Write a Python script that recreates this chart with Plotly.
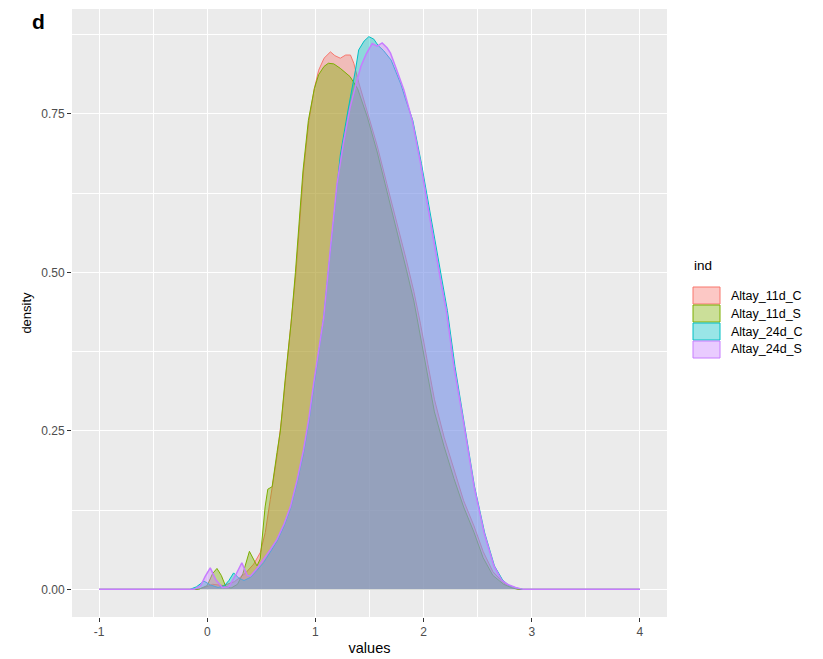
import plotly.graph_objects as go

# ---------------- data ----------------
groups = ["Altay_11d_C", "Altay_11d_S", "Altay_24d_C", "Altay_24d_S"]
colors = ["#F8766D", "#7CAE00", "#00BFC4", "#C77CFF"]

x_11d_C = [-1, -0.1, -0.02, 0.05, 0.15, 0.25, 0.35, 0.43, 0.49, 0.537,
           0.583, 0.645, 0.69, 0.737, 0.78, 0.82, 0.855, 0.89, 0.94, 0.99,
           1.03, 1.08, 1.139, 1.18, 1.23, 1.28, 1.324, 1.355, 1.40, 1.48,
           1.571, 1.66, 1.756, 1.84, 1.91, 1.97, 2.04, 2.10, 2.19, 2.28,
           2.37, 2.466, 2.55, 2.64, 2.74, 2.82, 2.88, 4]
y_11d_C = [0, 0, 0.003, 0.008, 0.006, 0.012, 0.025, 0.04, 0.058, 0.09,
           0.142, 0.21, 0.273, 0.352, 0.43, 0.50, 0.58, 0.66, 0.74, 0.79,
           0.819, 0.838, 0.848, 0.842, 0.838, 0.843, 0.843, 0.83, 0.80, 0.755,
           0.70, 0.64, 0.578, 0.52, 0.47, 0.42, 0.355, 0.30, 0.24, 0.19,
           0.14, 0.10, 0.06, 0.028, 0.01, 0.003, 0, 0]

x_11d_S = [-1, -0.08, 0.0, 0.05, 0.09, 0.13, 0.17, 0.22, 0.28, 0.33,
           0.39, 0.43, 0.46, 0.49, 0.51, 0.535, 0.56, 0.60, 0.645, 0.676,
           0.72, 0.775, 0.815, 0.85, 0.885, 0.935, 0.99, 1.03, 1.08, 1.12,
           1.17, 1.23, 1.32, 1.39, 1.48, 1.571, 1.66, 1.756, 1.84, 1.91,
           1.97, 2.03, 2.10, 2.19, 2.28, 2.37, 2.466, 2.55, 2.64, 2.74,
           2.82, 2.88, 4]
y_11d_S = [0, 0, 0.006, 0.025, 0.033, 0.022, 0.005, 0.002, 0.008, 0.025,
           0.060, 0.048, 0.037, 0.048, 0.09, 0.13, 0.158, 0.162, 0.216, 0.25,
           0.33, 0.42, 0.50, 0.58, 0.66, 0.74, 0.79, 0.812, 0.825, 0.830,
           0.829, 0.822, 0.809, 0.79, 0.745, 0.69, 0.63, 0.565, 0.505, 0.455,
           0.40, 0.34, 0.28, 0.225, 0.175, 0.13, 0.09, 0.05, 0.022, 0.008,
           0.002, 0, 0]

x_24d_C = [-1, -0.16, -0.1, -0.03, 0.03, 0.1, 0.16, 0.2, 0.244, 0.29,
           0.34, 0.40, 0.46, 0.52, 0.58, 0.645, 0.71, 0.77, 0.83, 0.89,
           0.94, 0.985, 1.03, 1.077, 1.108, 1.139, 1.17, 1.20, 1.23, 1.262,
           1.295, 1.324, 1.35, 1.37, 1.40, 1.45, 1.494, 1.54, 1.58, 1.63,
           1.70, 1.79, 1.83, 1.90, 1.98, 2.045, 2.105, 2.165, 2.22, 2.29,
           2.375, 2.47, 2.565, 2.655, 2.73, 2.79, 2.86, 2.92, 4]
y_24d_C = [0, 0, 0.004, 0.013, 0.007, 0.003, 0.006, 0.014, 0.026, 0.018,
           0.014, 0.019, 0.03, 0.042, 0.058, 0.076, 0.10, 0.128, 0.168, 0.215,
           0.265, 0.318, 0.372, 0.43, 0.483, 0.531, 0.588, 0.636, 0.685, 0.714,
           0.75, 0.777, 0.80, 0.819, 0.851, 0.865, 0.872, 0.868, 0.858, 0.85,
           0.835, 0.797, 0.775, 0.74, 0.672, 0.609, 0.546, 0.488, 0.44, 0.352,
           0.263, 0.163, 0.089, 0.037, 0.015, 0.006, 0.002, 0, 0]

x_24d_S = [-1, -0.12, -0.06, -0.02, 0.028, 0.08, 0.14, 0.2, 0.27, 0.32,
           0.37, 0.40, 0.46, 0.52, 0.58, 0.645, 0.71, 0.77, 0.83, 0.89,
           0.94, 0.985, 1.03, 1.077, 1.14, 1.20, 1.26, 1.32, 1.38, 1.42,
           1.47, 1.525, 1.57, 1.617, 1.664, 1.694, 1.75, 1.818, 1.895, 1.972,
           2.034, 2.096, 2.157, 2.21, 2.28, 2.37, 2.466, 2.56, 2.65, 2.72,
           2.775, 2.85, 2.92, 4]
y_24d_S = [0, 0, 0.006, 0.02, 0.034, 0.015, 0.003, 0.004, 0.025, 0.042,
           0.022, 0.021, 0.033, 0.047, 0.062, 0.079, 0.103, 0.131, 0.172, 0.22,
           0.27, 0.326, 0.376, 0.43, 0.54, 0.64, 0.705, 0.76, 0.80, 0.825,
           0.845, 0.861, 0.857, 0.862, 0.854, 0.846, 0.82, 0.788, 0.740, 0.672,
           0.609, 0.546, 0.488, 0.44, 0.352, 0.263, 0.163, 0.089, 0.037, 0.015,
           0.008, 0.003, 0, 0]

x_ticks = [-1, 0, 1, 2, 3, 4]
x_tick_labels = ["-1", "0", "1", "2", "3", "4"]
x_minor = [-0.5, 0.5, 1.5, 2.5, 3.5]
y_ticks = [0, 0.25, 0.5, 0.75]
y_tick_labels = ["0.00", "0.25", "0.50", "0.75"]
y_minor = [0.125, 0.375, 0.625, 0.875]

series_x = [x_11d_C, x_11d_S, x_24d_C, x_24d_S]
series_y = [y_11d_C, y_11d_S, y_24d_C, y_24d_S]
line_widths = [1, 1, 1, 1.5]

# ---------------- layout geometry (pixels) ----------------
W, H = 823, 659
L, R, T, B = 72, 667, 9, 617
FONT = "Liberation Sans, Arial, sans-serif"


def rgba(hexcol, a):
    h = hexcol.lstrip("#")
    return "rgba(%d,%d,%d,%s)" % (int(h[0:2], 16), int(h[2:4], 16), int(h[4:6], 16), a)


def px_x(px):
    return (px - L) / (R - L)


def px_y(py):
    return (B - py) / (B - T)


fig = go.Figure()
for name, xs, ys, col, lw in zip(groups, series_x, series_y, colors, line_widths):
    fig.add_trace(go.Scatter(
        x=xs, y=ys, mode="lines", name=name, fill="tozeroy",
        fillcolor=rgba(col, 0.4), line=dict(color=col, width=lw),
        showlegend=False, hoverinfo="x+y+name"))

# custom ggplot-like legend
shapes = []
annotations = []
annotations.append(dict(text="ind", x=px_x(692), y=px_y(265), xref="paper", yref="paper",
                        xanchor="left", yanchor="middle", showarrow=False,
                        font=dict(family=FONT, size=13.5, color="#000000")))
for i, (name, col) in enumerate(zip(groups, colors)):
    top = 287 + 18 * i
    shapes.append(dict(type="rect", xref="paper", yref="paper",
                       x0=px_x(693), x1=px_x(720), y0=px_y(top + 17), y1=px_y(top),
                       fillcolor=rgba(col, 0.4), line=dict(color=col, width=1)))
    annotations.append(dict(text=name, x=px_x(729), y=px_y(top + 8.5), xref="paper", yref="paper",
                            xanchor="left", yanchor="middle", showarrow=False,
                            font=dict(family=FONT, size=12.5, color="#000000")))

annotations.append(dict(text="<b>d</b>", x=px_x(30), y=px_y(21), xref="paper", yref="paper",
                        xanchor="left", yanchor="middle", showarrow=False,
                        font=dict(family=FONT, size=21, color="#000000")))

fig.update_layout(
    width=W, height=H,
    margin=dict(l=L, r=W - R, t=T, b=H - B, autoexpand=False),
    paper_bgcolor="#FFFFFF", plot_bgcolor="#EBEBEB",
    font=dict(family=FONT),
    shapes=shapes, annotations=annotations,
    showlegend=False,
    xaxis=dict(
        range=[-1.25, 4.25], tickmode="array", tickvals=x_ticks, ticktext=x_tick_labels,
        showgrid=True, gridcolor="#FFFFFF", gridwidth=1.1, zeroline=False,
        ticks="outside", ticklen=4, tickwidth=1, tickcolor="#333333",
        tickfont=dict(family=FONT, size=12, color="#4D4D4D"),
        minor=dict(tickmode="array", tickvals=x_minor, showgrid=True,
                   gridcolor="#FFFFFF", gridwidth=0.55, ticks=""),
        title=dict(text="values", standoff=4, font=dict(family=FONT, size=14.5, color="#000000")),
        showline=False, automargin=False,
    ),
    yaxis=dict(
        range=[-0.0436, 0.9156], tickmode="array", tickvals=y_ticks, ticktext=y_tick_labels,
        showgrid=True, gridcolor="#FFFFFF", gridwidth=1.1, zeroline=False,
        ticks="outside", ticklen=4, tickwidth=1, tickcolor="#333333",
        tickfont=dict(family=FONT, size=12, color="#4D4D4D"),
        minor=dict(tickmode="array", tickvals=y_minor, showgrid=True,
                   gridcolor="#FFFFFF", gridwidth=0.55, ticks=""),
        title=dict(text="density", standoff=6, font=dict(family=FONT, size=13, color="#000000")),
        showline=False, automargin=False,
    ),
)

fig.write_html("out.html")
